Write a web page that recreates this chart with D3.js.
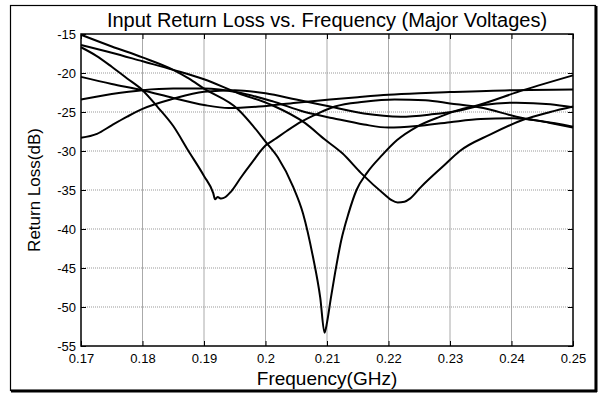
<!DOCTYPE html>
<html><head><meta charset="utf-8">
<script src="https://cdn.jsdelivr.net/npm/d3@7"></script>
<style>html,body{margin:0;padding:0;background:#fff;}svg{display:block;font-family:"Liberation Sans",Arial,sans-serif;}</style>
</head><body>
<svg id="chart" width="603" height="394"></svg>
<script>
// ---- data (frequency GHz, return loss dB) ----
const xTicks = [0.17,0.18,0.19,0.2,0.21,0.22,0.23,0.24,0.25];
const yTicks = [-15,-20,-25,-30,-35,-40,-45,-50,-55];
const titleText = "Input Return Loss vs. Frequency (Major Voltages)";
const xLabel = "Frequency(GHz)";
const yLabel = "Return Loss(dB)";

const curve1 = [[0.170,-16.7],[0.1725,-17.8],[0.175,-19.2],[0.1775,-20.7],[0.180,-22.2],[0.1825,-24.4],[0.185,-26.8],[0.1874,-29.9],[0.190,-33.2],[0.1915,-35.4],[0.1918,-36.2],[0.1922,-35.9],[0.1928,-36.1],[0.1935,-35.9],[0.1944,-35.2],[0.196,-33.4],[0.1977,-31.6],[0.200,-29.3],[0.2015,-28.5],[0.2035,-27.4],[0.2059,-26.2],[0.2085,-25.2],[0.2113,-24.3],[0.216,-23.7],[0.221,-23.4],[0.226,-23.5],[0.230,-23.9],[0.2354,-24.5],[0.2408,-25.6],[0.2463,-26.4],[0.250,-27.0]];
const curve2 = [[0.170,-15.1],[0.175,-16.6],[0.180,-18.0],[0.185,-19.6],[0.1875,-20.7],[0.190,-22.0],[0.1956,-24.7],[0.198,-26.8],[0.200,-28.8],[0.202,-30.8],[0.2045,-34.6],[0.2061,-38.0],[0.2077,-43.5],[0.2089,-48.8],[0.2096,-53.3],[0.2100,-52.0],[0.2106,-49.0],[0.2113,-45.7],[0.2123,-41.5],[0.2135,-38.0],[0.2148,-35.0],[0.2165,-32.8],[0.219,-30.5],[0.2214,-28.6],[0.2246,-26.9],[0.2284,-25.6],[0.2316,-24.7],[0.2338,-24.3],[0.2419,-22.2],[0.250,-20.3]];
const curve3 = [[0.170,-16.4],[0.175,-17.4],[0.180,-18.5],[0.185,-19.6],[0.190,-20.8],[0.1956,-22.6],[0.201,-24.1],[0.2064,-26.4],[0.2096,-28.5],[0.2125,-30.3],[0.2155,-32.8],[0.2194,-35.6],[0.2205,-36.3],[0.2215,-36.6],[0.2226,-36.5],[0.2235,-36.1],[0.2253,-34.6],[0.2291,-31.8],[0.2316,-30.0],[0.2365,-27.9],[0.2419,-26.0],[0.2463,-25.0],[0.250,-24.3]];
const curve4 = [[0.170,-20.5],[0.175,-21.4],[0.180,-22.2],[0.185,-23.2],[0.190,-24.1],[0.194,-24.5],[0.199,-24.3],[0.205,-23.8],[0.2105,-23.4],[0.215,-23.1],[0.220,-22.8],[0.225,-22.6],[0.230,-22.45],[0.240,-22.2],[0.250,-22.1]];
const curve5 = [[0.170,-23.4],[0.175,-22.7],[0.180,-22.2],[0.185,-22.0],[0.190,-22.0],[0.1956,-22.5],[0.201,-23.6],[0.2064,-25.0],[0.211,-25.8],[0.216,-26.6],[0.220,-27.0],[0.2246,-26.8],[0.230,-26.3],[0.235,-25.9],[0.2403,-25.8],[0.245,-26.2],[0.250,-26.9]];
const curve6 = [[0.170,-28.3],[0.1726,-27.8],[0.175,-26.7],[0.1775,-25.6],[0.180,-24.6],[0.185,-23.3],[0.190,-22.4],[0.195,-22.2],[0.200,-22.6],[0.205,-23.4],[0.2105,-24.3],[0.216,-25.2],[0.222,-25.6],[0.227,-25.3],[0.2316,-24.8],[0.2354,-24.1],[0.2408,-23.8],[0.2463,-24.0],[0.250,-24.4]];
const curves = [curve1,curve2,curve3,curve4,curve5,curve6];

// ---- layout ----
const svg = d3.select("#chart");
const L = 81, R = 573, T = 34, B = 346;
const x = d3.scaleLinear().domain([0.17,0.25]).range([L,R]);
const y = d3.scaleLinear().domain([-55,-15]).range([B,T]);

// outer frame
svg.append("rect").attr("x",10.5).attr("y",5.5).attr("width",585).attr("height",385)
  .attr("fill","none").attr("stroke","#000").attr("stroke-width",1.2);
svg.append("line").attr("x1",596).attr("x2",596).attr("y1",6).attr("y2",392).attr("stroke","#000").attr("stroke-width",3);
svg.append("line").attr("x1",11).attr("x2",597).attr("y1",391).attr("y2",391).attr("stroke","#000").attr("stroke-width",3);

// grid
const grid = svg.append("g");
grid.selectAll(".vg").data(xTicks.slice(1,-1)).join("line")
  .attr("x1",d=>x(d)).attr("x2",d=>x(d)).attr("y1",T).attr("y2",B)
  .attr("stroke","#aaa").attr("stroke-width",1);
grid.selectAll(".hg").data(yTicks.slice(1,-1)).join("line")
  .attr("x1",L).attr("x2",R).attr("y1",d=>y(d)).attr("y2",d=>y(d))
  .attr("stroke","#999").attr("stroke-width",1).attr("stroke-dasharray","1,1");

// axes (ticks inward)
const fmtX = d=>String(+d.toFixed(2));
const axB = d3.axisBottom(x).tickValues(xTicks).tickSize(-5).tickPadding(8).tickFormat(fmtX);
const axT = d3.axisTop(x).tickValues(xTicks).tickSize(-5).tickFormat("");
const axL = d3.axisLeft(y).tickValues(yTicks).tickSize(-5).tickPadding(5).tickFormat(d=>String(d));
const axR = d3.axisRight(y).tickValues(yTicks).tickSize(-5).tickFormat("");
function style(g){ g.select(".domain").remove(); g.selectAll("line").attr("stroke","#000");
  g.selectAll("text").attr("font-size",13).attr("fill","#000").attr("font-family","Liberation Sans, Arial, sans-serif"); }
svg.append("g").attr("transform",`translate(0,${B})`).call(axB).call(style);
svg.append("g").attr("transform",`translate(0,${T})`).call(axT).call(style);
svg.append("g").attr("transform",`translate(${L},0)`).call(axL).call(style);
svg.append("g").attr("transform",`translate(${R},0)`).call(axR).call(style);

// plot box
svg.append("rect").attr("x",L).attr("y",T).attr("width",R-L).attr("height",B-T)
  .attr("fill","none").attr("stroke","#000").attr("stroke-width",1.5);

// curves
const line = d3.line().x(d=>x(d[0])).y(d=>y(d[1])).curve(d3.curveMonotoneX);
svg.append("g").selectAll("path").data(curves).join("path")
  .attr("d",line).attr("fill","none").attr("stroke","#000").attr("stroke-width",2).attr("stroke-linejoin","round");

// texts
svg.append("text").attr("x",(L+R)/2).attr("y",27).attr("text-anchor","middle")
  .attr("font-size",20).text(titleText);
svg.append("text").attr("x",(L+R)/2).attr("y",385).attr("text-anchor","middle")
  .attr("font-size",19).text(xLabel);
svg.append("text").attr("transform",`translate(40,${(T+B)/2}) rotate(-90)`).attr("text-anchor","middle")
  .attr("font-size",17).text(yLabel);
</script>
</body></html>
